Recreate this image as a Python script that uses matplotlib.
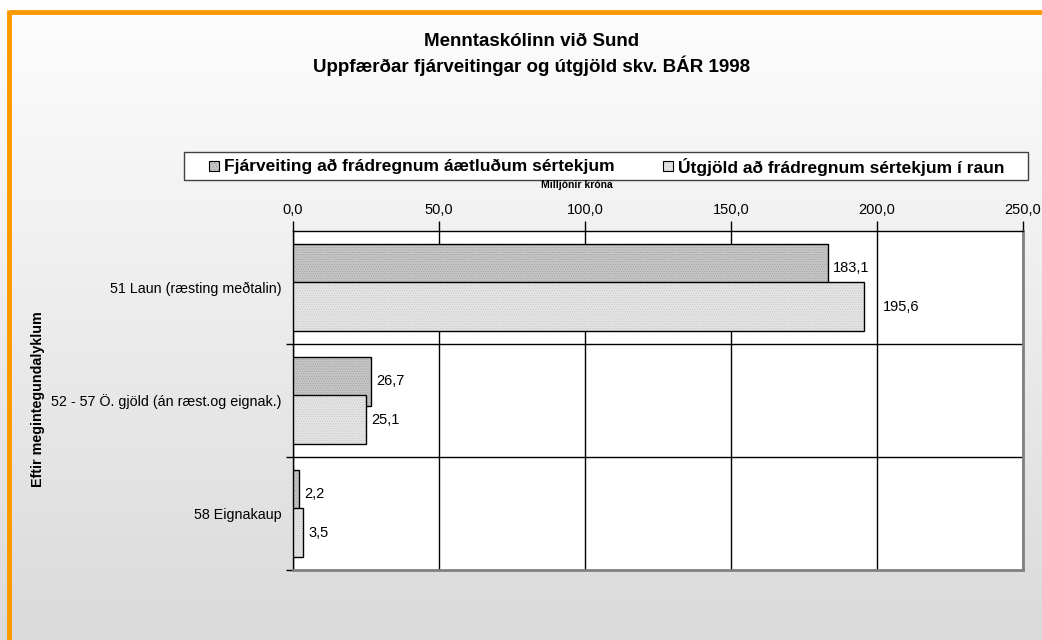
import numpy as np
import matplotlib
matplotlib.use("Agg")
import matplotlib.pyplot as plt
from matplotlib.patches import Rectangle
from matplotlib.lines import Line2D

plt.rcParams['font.family'] = ['Liberation Sans', 'DejaVu Sans']

title_lines = ["Menntaskólinn við Sund", "Uppfærðar fjárveitingar og útgjöld skv. BÁR 1998"]
categories = ["51 Laun (ræsting meðtalin)", "52 - 57 Ö. gjöld (án ræst.og eignak.)", "58 Eignakaup"]
series_names = ["Fjárveiting að frádregnum áætluðum sértekjum",
                "Útgjöld að frádregnum sértekjum í raun"]
fjarveiting = [183.1, 26.7, 2.2]
utgjold = [195.6, 25.1, 3.5]
xticks = [0, 50, 100, 150, 200, 250]
xtick_labels = ["0,0", "50,0", "100,0", "150,0", "200,0", "250,0"]
x_label = "Milljónir króna"
y_label = "Eftir megintegundalyklum"

W, H = 1042, 640
fig = plt.figure(figsize=(W / 100, H / 100), dpi=100)

# background gradient
bg = fig.add_axes([0, 0, 1, 1], zorder=-10)
grad = np.linspace(0, 1, 256).reshape(-1, 1)
top_c = np.array([0.996, 0.996, 0.996])
bot_c = np.array([0.855, 0.855, 0.855])
img = top_c + (bot_c - top_c) * grad[:, :, None] * np.ones((1, 2, 1))
bg.imshow(img, aspect='auto', extent=[0, 1, 0, 1], origin='upper')
bg.set_xlim(0, 1); bg.set_ylim(0, 1)
bg.axis('off')
# orange frame (top and left)
orange = '#ff9900'
bg.add_line(Line2D([8.5 / W, 1], [1 - 11.5 / H] * 2, color=orange, lw=3.5, solid_capstyle='butt'))
bg.add_line(Line2D([8.5 / W] * 2, [0, 1 - 10 / H], color=orange, lw=3.5, solid_capstyle='butt'))

# titles
fig.text(532 / W, 1 - 42 / H, title_lines[0], ha='center', va='center', fontsize=13.5, fontweight='bold')
fig.text(532 / W, 1 - 66 / H, title_lines[1], ha='center', va='center', fontsize=13.5, fontweight='bold')

# main axes
left, right, top, bottom = 293, 1023, 231, 570
ax = fig.add_axes([left / W, 1 - bottom / H, (right - left) / W, (bottom - top) / H])
ax.set_facecolor('white')

c1, c2 = '#c6c6c6', '#e4e4e4'
h1, h2 = '#9a9a9a', '#c4c4c4'
bar_h = 0.43
off = 0.17
y = np.arange(len(categories))
plt.rcParams['hatch.linewidth'] = 0.4

ax.barh(y - off, fjarveiting, height=bar_h, color=c1, edgecolor=h1, hatch='.......', lw=0, zorder=3)
ax.barh(y - off, fjarveiting, height=bar_h, fill=False, edgecolor='black', lw=1.0, zorder=4)
ax.barh(y + off, utgjold, height=bar_h, color=c2, edgecolor=h2, hatch='.......', lw=0, zorder=5)
ax.barh(y + off, utgjold, height=bar_h, fill=False, edgecolor='black', lw=1.0, zorder=6)

label_off = [[5, 5, 5], [19, 5, 5]]
for yi, v, o in zip(y - off, fjarveiting, label_off[0]):
    ax.annotate(f"{v:.1f}".replace('.', ','), (v, yi), xytext=(o, 0), textcoords='offset pixels',
                ha='left', va='center', fontsize=10.5, zorder=7)
for yi, v, o in zip(y + off, utgjold, label_off[1]):
    ax.annotate(f"{v:.1f}".replace('.', ','), (v, yi), xytext=(o, 0), textcoords='offset pixels',
                ha='left', va='center', fontsize=10.5, zorder=7)

ax.set_xlim(0, 250)
ax.set_ylim(len(categories) - 0.5, -0.5)
ax.xaxis.tick_top()
ax.set_xticks(xticks)
ax.set_xticklabels(xtick_labels, fontsize=10.5)
ax.tick_params(axis='x', direction='out', length=7, width=1, pad=3, color='black')
ax.set_yticks(y)
ax.set_yticklabels(categories, fontsize=10.3)
ax.tick_params(axis='y', which='major', length=0, pad=8)
ax.set_yticks([0.5, 1.5, 2.5], minor=True)
ax.tick_params(axis='y', which='minor', direction='out', length=5, width=1, color='black')
ax.grid(axis='x', color='black', lw=1, zorder=1)
for s in [0.5, 1.5]:
    ax.axhline(s, color='black', lw=1, zorder=1)
ax.set_axisbelow(True)
for sp in ['top', 'left']:
    ax.spines[sp].set_color('black'); ax.spines[sp].set_linewidth(1)
for sp in ['right', 'bottom']:
    ax.spines[sp].set_color('#808080'); ax.spines[sp].set_linewidth(2)

fig.text(577 / W, 1 - 185 / H, x_label, ha='center', va='center', fontsize=7.5, fontweight='bold')
fig.text(38 / W, 1 - 399 / H, y_label, ha='center', va='center', fontsize=10.3, fontweight='bold', rotation=90)

# legend box
lx0, lx1, ly0, ly1 = 184, 1028, 152, 180
bg.add_patch(Rectangle((lx0 / W, 1 - ly1 / H), (lx1 - lx0) / W, (ly1 - ly0) / H,
                       facecolor='white', edgecolor='#404040', lw=1.0, zorder=5))
ax_l = fig.add_axes([0, 0, 1, 1], zorder=20)
ax_l.set_xlim(0, W); ax_l.set_ylim(H, 0); ax_l.axis('off')
ax_l.patch.set_alpha(0)
for (sx, tx, name, fc, hc) in [(209, 224, series_names[0], c1, h1), (663, 678, series_names[1], c2, h2)]:
    ax_l.add_patch(Rectangle((sx, 161), 10, 10, facecolor=fc, edgecolor=hc, hatch='.....', lw=0))
    ax_l.add_patch(Rectangle((sx, 161), 10, 10, fill=False, edgecolor='black', lw=0.8))
    ax_l.text(tx, 166.5, name, ha='left', va='center', fontsize=12.5, fontweight='bold')

fig.savefig('out.png', dpi=100)
